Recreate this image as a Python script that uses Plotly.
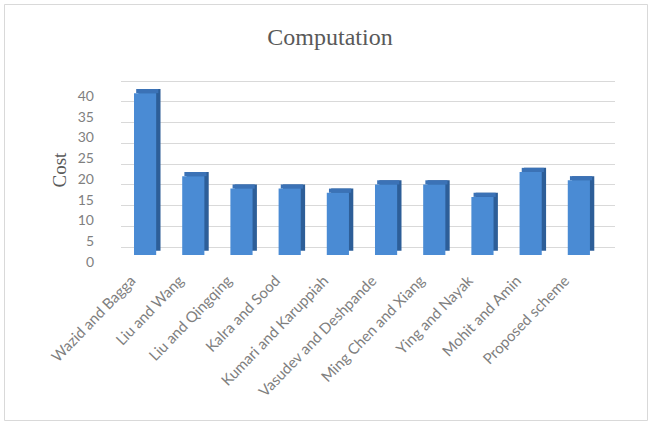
import plotly.graph_objects as go

categories = ["Wazid and Bagga", "Liu and Wang", "Liu and Qingqing", "Kalra and Sood",
              "Kumari and Karuppiah", "Vasudev and Deshpande", "Ming Chen and Xiang",
              "Ying and Nayak", "Mohit and Amin", "Proposed scheme"]
cost = [39, 19, 16, 16, 15, 17, 17, 14, 20, 18]
y_ticks = [0, 5, 10, 15, 20, 25, 30, 35, 40]

n = len(categories)
depth = 1.0          # visual depth of the 3D bars, in value units
W = 0.46
shift = 0.09

fig = go.Figure()
# side face (dark)
fig.add_trace(go.Bar(x=categories, y=cost, base=[depth] * n, width=W, offset=-W / 2 + shift,
                     marker=dict(color="#2d5e98", line=dict(width=0)), hoverinfo="skip",
                     showlegend=False))
# top face
fig.add_trace(go.Bar(x=categories, y=[depth] * n, base=cost, width=W, offset=-W / 2 + shift / 2,
                     marker=dict(color="#3b72b6", line=dict(width=0)), hoverinfo="skip",
                     showlegend=False))
# front face
fig.add_trace(go.Bar(x=categories, y=cost, width=W, offset=-W / 2,
                     marker=dict(color="#4a8bd4", line=dict(width=0)), showlegend=False))
# invisible traces to hold the grid axis and the value-label axis
fig.add_trace(go.Scatter(x=[categories[0]], y=[0], yaxis="y2", mode="markers",
                         marker=dict(opacity=0), hoverinfo="skip", showlegend=False))
fig.add_trace(go.Scatter(x=[categories[0]], y=[0], yaxis="y3", mode="markers",
                         marker=dict(opacity=0), hoverinfo="skip", showlegend=False))

pxu = 4.15
top_px, bot_px = 75, 265
span = (bot_px - top_px) / pxu

def rng(zero_px):
    lo = -(bot_px - zero_px) / pxu
    return [lo, lo + span]

left, right = 121, 615

fig.update_layout(
    width=650, height=425,
    margin=dict(l=left, r=650 - right, t=top_px, b=425 - bot_px),
    paper_bgcolor="white", plot_bgcolor="rgba(0,0,0,0)",
    barmode="overlay",
    title=dict(text="Computation", x=330 / 650, xref="container", xanchor="center",
               y=1 - 37 / 425, yref="container", yanchor="middle",
               font=dict(family="Liberation Serif", size=24, color="#595959")),
    xaxis=dict(range=[-0.5, 9.75], showgrid=False, zeroline=False, showline=False,
               categoryorder="array", categoryarray=categories,
               tickangle=-46, ticklabelshift=-14, ticklabelstandoff=3,
               tickfont=dict(family="Lato", size=15, color="#7f7f7f")),
    yaxis=dict(range=rng(255), showgrid=False, zeroline=False, showticklabels=False,
               showline=False),
    yaxis2=dict(range=rng(247), overlaying="y", tickvals=y_ticks, showticklabels=False,
                showgrid=True, gridcolor="#d9d9d9", gridwidth=1, zeroline=False, layer="below traces"),
    yaxis3=dict(range=rng(262), overlaying="y", tickvals=y_ticks, showgrid=False, zeroline=False,
                ticklabelstandoff=26,
                tickfont=dict(family="Lato", size=14, color="#7f7f7f"),
                title=dict(text="Cost", standoff=6,
                           font=dict(family="Liberation Serif", size=19, color="#595959"))),
)

# chart border
pw, ph = right - left, bot_px - top_px
fig.add_shape(type="rect", xref="paper", yref="paper",
              x0=(4.5 - left) / pw, x1=(647.5 - left) / pw,
              y0=(bot_px - 420.5) / ph, y1=(bot_px - 4.5) / ph,
              line=dict(color="#d9d9d9", width=1), fillcolor="rgba(0,0,0,0)", layer="below")

fig.write_html("out.html")
